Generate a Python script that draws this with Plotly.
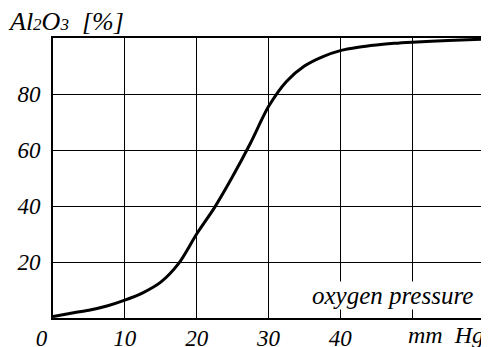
import plotly.graph_objects as go

# Data
pressure = [0, 2.5, 5, 7.5, 10, 12.5, 15, 17.5, 20, 22.5, 25, 27.5, 30, 32.5, 35, 37.5, 40, 42.5, 45, 47.5, 50, 55, 60]
al2o3 = [0.5, 1.7, 2.8, 4.3, 6.4, 9.0, 12.8, 19.5, 30, 39.5, 50.5, 62.5, 75.5, 84.5, 90, 93.3, 95.5, 96.7, 97.5, 98.1, 98.5, 99.1, 99.6]

x_tickvals = [0, 10, 20, 30, 40, 50]
x_ticktext = ["0\u00a0\u00a0\u00a0\u00a0", "10", "20", "30", "40", " "]
y_tickvals = [20, 40, 60, 80, 100]
y_ticktext = ["20", "40", "60", "80", " "]

FONT = "Liberation Serif"

fig = go.Figure()
fig.add_trace(go.Scatter(
    x=pressure, y=al2o3, mode="lines",
    line=dict(color="black", width=3, shape="spline", smoothing=0.8),
    showlegend=False, hoverinfo="skip",
))

axis_common = dict(
    showline=True, linecolor="black", linewidth=2, mirror=True,
    showgrid=True, gridcolor="black", gridwidth=1.3,
    zeroline=False, ticks="", automargin=False,
    tickfont=dict(family=FONT, size=23, color="black", style="italic"),
)

fig.update_xaxes(range=[0, 60], tickmode="array",
                 tickvals=x_tickvals, ticktext=x_ticktext,
                 ticklabelstandoff=-2, **axis_common)
fig.update_yaxes(range=[0, 100], tickmode="array",
                 tickvals=y_tickvals, ticktext=y_ticktext,
                 ticklabelstandoff=6, **axis_common)

fig.add_annotation(
    text="Al<span style='font-size:17px'>2</span>O<span style='font-size:17px'>3</span>\u00a0\u00a0[%]",
    xref="paper", yref="paper",
    x=-0.11, y=1.0, xanchor="left", yanchor="bottom", yshift=0,
    showarrow=False, font=dict(family=FONT, size=26, color="black", style="italic"),
)
fig.add_annotation(
    text="mm\u00a0\u00a0Hg", xref="x", yref="paper",
    x=54.7, y=0, xanchor="center", yanchor="top", yshift=-2,
    showarrow=False, font=dict(family=FONT, size=24, color="black", style="italic"),
)
fig.add_annotation(
    text="oxygen pressure", xref="x", yref="y",
    x=47.3, y=8.0, xanchor="center", yanchor="middle",
    showarrow=False, bgcolor="white", borderpad=0,
    font=dict(family=FONT, size=25, color="black", style="italic"),
)

# The page adds an 8px body margin, so the figure is shrunk by that amount
fig.update_layout(
    template="none",
    width=481, height=339,
    margin=dict(l=45, r=5, t=30, b=29),
    paper_bgcolor="white", plot_bgcolor="white",
)

fig.write_html("out.html")
